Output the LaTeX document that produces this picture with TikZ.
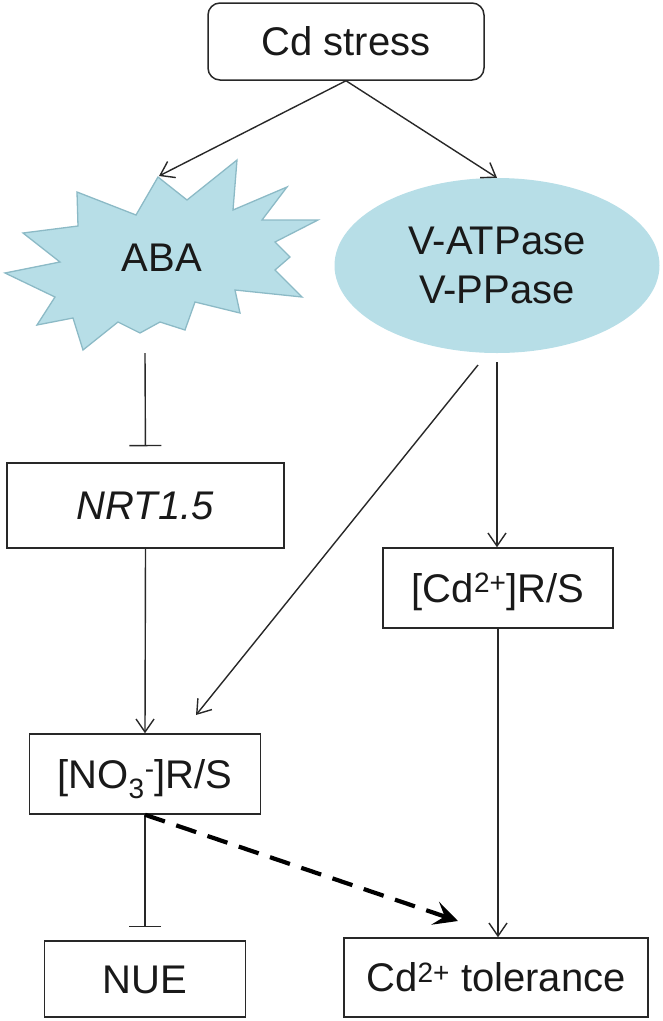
\documentclass[tikz,border=0pt]{standalone}
\usepackage{fontspec}
\setmainfont{Liberation Sans}
\usepackage{tikz}
\usetikzlibrary{shapes,arrows,positioning,calc,arrows.meta}

\definecolor{abablue}{RGB}{183,222,231}
\definecolor{abaedge}{RGB}{140,186,198}
\definecolor{linegray}{RGB}{40,40,40}

\begin{document}
\begin{tikzpicture}[x=1pt, y=-1pt,
    every node/.style={font=\fontsize{40}{49}\selectfont, text=black!90},
    box/.style={draw=linegray, line width=1.5pt, fill=white, inner sep=0pt, text height=28pt, text depth=0pt},
    arr/.style={draw=linegray, line width=1.4pt, -{Straight Barb[length=13pt,width=18pt]}},
    inh/.style={draw=linegray, line width=1.4pt, -{Bar[width=32pt]}},
    dasharr/.style={line width=4.2pt, dash pattern=on 21pt off 12pt, line join=round, -{Stealth[length=24pt,width=24pt,inset=10pt]}}]
    \useasboundingbox (0,0) rectangle (663,1021);

    % ABA burst
    \filldraw[fill=abablue, draw=abaedge, line width=1.3pt]
      (158,177) -- (187,200) -- (237,160) -- (233,210) -- (287,187) -- (262,220) --
      (318,220) -- (275,242) -- (290,257) -- (275,270) -- (302,297) -- (235,290) --
      (240,313) -- (195,302) -- (185,330) -- (160,322) -- (140,333) -- (118,322) --
      (83,350) -- (73,318) -- (37,325) -- (55,297) -- (5,273) -- (60,262) --
      (23,233) -- (78,226) -- (77,192) -- (136,215) -- cycle;
    \node (aba) at (162,258) {ABA};
    \coordinate (abatop) at (159,176);
    \coordinate (ababot) at (145,353);

    \node[box, rounded corners=12pt, minimum width=276pt, minimum height=77pt] (stress) at (346,41.5) {Cd stress};
    \node[ellipse, fill=abablue, minimum width=325pt, minimum height=175pt, align=center] (vatp) at (497,265.5) {V-ATPase\\V-PPase};

    \node[box, minimum width=277pt, minimum height=85pt] (nrt) at (145.5,505.5) {\textit{NRT1.5}};
    \node[box, minimum width=230pt, minimum height=80pt] (cdrs) at (498,588) {[Cd\textsuperscript{2+}]R/S};
    \node[box, minimum width=231pt, minimum height=80pt] (no3) at (145,774) {[NO\textsubscript{3}\textsuperscript{-}]R/S};
    \node[box, minimum width=201pt, minimum height=76pt] (nue) at (145,979) {NUE};
    \node[box, minimum width=304pt, minimum height=79pt] (tol) at (496,977.5) {Cd\textsuperscript{2+} tolerance};

    \coordinate (vdiag) at (478,365);
    \coordinate (no3in) at (196,715);
    \coordinate (tolin) at (458,921);

    \draw[arr] (stress.south) -- (abatop);
    \draw[arr] (stress.south) -- (vatp.north);
    \draw[inh, shorten >=16pt] (ababot) -- (nrt.north);
    \draw[arr] (nrt.south) -- (no3.north);
    \draw[arr] (vdiag) -- (no3in);
    \draw[arr, shorten <=9pt] (vatp.south) -- (vatp.south |- cdrs.north);
    \draw[arr] (cdrs.south) -- (cdrs.south |- tol.north);
    \draw[inh, shorten >=13pt] (no3.south) -- (nue.north);
    \draw[dasharr] (no3.south) -- (tolin); % dashed link
\end{tikzpicture}
\end{document}
